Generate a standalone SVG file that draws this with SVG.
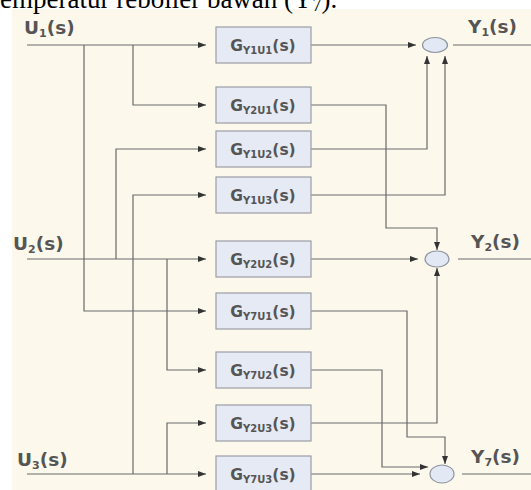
<svg xmlns="http://www.w3.org/2000/svg" width="531" height="490" viewBox="0 0 531 490">
  <style>
    .lbl { font-family: "DejaVu Sans", "Liberation Sans", sans-serif; font-weight: bold; font-size: 18.5px; fill: #555; }
    .lbl .s { font-size: 11px; }
    .blk rect { fill: #e6eaf5; stroke: #9b9ca6; stroke-width: 1.2; }
    .blk text { font-family: "DejaVu Sans", "Liberation Sans", sans-serif; font-weight: bold; font-size: 15.5px; fill: #555; text-anchor: middle; }
    .sub { font-size: 10px; }
    .sum ellipse { fill: #e3e8f5; stroke: #8e939e; stroke-width: 1.2; }
    #connectors path, #connectors line { fill: none; stroke: #6a6a6a; stroke-width: 1.2; }
    .arr { marker-end: url(#ah); }
  </style>
  <defs>
    <marker id="ah" viewBox="0 0 8 6" refX="8" refY="3" markerWidth="8" markerHeight="6" markerUnits="userSpaceOnUse" orient="auto">
      <path d="M0,0 L8,3 L0,6 Z" fill="#333"/>
    </marker>
  </defs>

  <!-- page background -->
  <rect x="0" y="0" width="531" height="490" fill="#ffffff"/>
  <rect x="12" y="9" width="519" height="481" fill="#fcf8ec"/>

  <!-- sentence running off the top edge -->
  <text x="0" y="8" font-family="'Liberation Serif', 'Times New Roman', serif" font-size="27" fill="#000">emperatur reboiler bawah (Y<tspan font-size="18" dy="3">7</tspan><tspan dy="-3">).</tspan></text>

  <!-- connectors -->
  <g id="connectors">
    <!-- U1 -->
    <line class="arr" x1="27" y1="45" x2="206" y2="45"/>
    <path class="arr" d="M133,45 V105 H206"/>
    <path class="arr" d="M84,45 V311 H206"/>
    <!-- U2 -->
    <line class="arr" x1="27" y1="259" x2="206" y2="259"/>
    <path class="arr" d="M116,259 V149 H206"/>
    <path class="arr" d="M167,259 V370 H206"/>
    <!-- U3 -->
    <line class="arr" x1="27" y1="474" x2="206" y2="474"/>
    <path class="arr" d="M133,474 V195 H206"/>
    <path class="arr" d="M167,474 V423 H206"/>

    <!-- into Y1 junction -->
    <line class="arr" x1="311" y1="45" x2="416" y2="45"/>
    <path class="arr" d="M311,149 H427 V56"/>
    <path class="arr" d="M311,195 H445 V56"/>
    <!-- into Y2 junction -->
    <path class="arr" d="M311,105 H386 V228 H437 V250"/>
    <line class="arr" x1="311" y1="259" x2="418" y2="259"/>
    <path class="arr" d="M311,423 H437 V268"/>
    <!-- into Y7 junction -->
    <path class="arr" d="M311,311 H407 V437 H445 V464"/>
    <path class="arr" d="M311,370 H382 V467 H428"/>
    <line class="arr" x1="311" y1="474" x2="420" y2="474"/>

    <!-- outputs -->
    <line x1="453" y1="45" x2="531" y2="45"/>
    <line x1="458" y1="259" x2="531" y2="259"/>
    <line x1="462" y1="474" x2="531" y2="474"/>
  </g>

  <!-- input / output labels -->
  <text class="lbl" x="24" y="34">U<tspan class="s" dy="3">1</tspan><tspan dy="-3">(s)</tspan></text>
  <text class="lbl" x="13" y="250">U<tspan class="s" dy="3">2</tspan><tspan dy="-3">(s)</tspan></text>
  <text class="lbl" x="17" y="466">U<tspan class="s" dy="3">3</tspan><tspan dy="-3">(s)</tspan></text>
  <text class="lbl" x="468" y="33">Y<tspan class="s" dy="3">1</tspan><tspan dy="-3">(s)</tspan></text>
  <text class="lbl" x="471" y="248">Y<tspan class="s" dy="3">2</tspan><tspan dy="-3">(s)</tspan></text>
  <text class="lbl" x="471" y="463">Y<tspan class="s" dy="3">7</tspan><tspan dy="-3">(s)</tspan></text>

  <!-- transfer-function blocks -->
  <g id="g_y1u1" class="blk"><rect x="216" y="27" width="95" height="36"/><text x="263" y="51">G<tspan class="sub" dy="3">Y1U1</tspan><tspan dy="-3">(s)</tspan></text></g>
  <g id="g_y2u1" class="blk"><rect x="216" y="87" width="95" height="36"/><text x="263" y="111">G<tspan class="sub" dy="3">Y2U1</tspan><tspan dy="-3">(s)</tspan></text></g>
  <g id="g_y1u2" class="blk"><rect x="216" y="131" width="95" height="36"/><text x="263" y="155">G<tspan class="sub" dy="3">Y1U2</tspan><tspan dy="-3">(s)</tspan></text></g>
  <g id="g_y1u3" class="blk"><rect x="216" y="177" width="95" height="36"/><text x="263" y="201">G<tspan class="sub" dy="3">Y1U3</tspan><tspan dy="-3">(s)</tspan></text></g>
  <g id="g_y2u2" class="blk"><rect x="216" y="241" width="95" height="36"/><text x="263" y="265">G<tspan class="sub" dy="3">Y2U2</tspan><tspan dy="-3">(s)</tspan></text></g>
  <g id="g_y7u1" class="blk"><rect x="216" y="293" width="95" height="36"/><text x="263" y="317">G<tspan class="sub" dy="3">Y7U1</tspan><tspan dy="-3">(s)</tspan></text></g>
  <g id="g_y7u2" class="blk"><rect x="216" y="352" width="95" height="36"/><text x="263" y="376">G<tspan class="sub" dy="3">Y7U2</tspan><tspan dy="-3">(s)</tspan></text></g>
  <g id="g_y2u3" class="blk"><rect x="216" y="405" width="95" height="36"/><text x="263" y="429">G<tspan class="sub" dy="3">Y2U3</tspan><tspan dy="-3">(s)</tspan></text></g>
  <g id="g_y7u3" class="blk"><rect x="216" y="456" width="95" height="36"/><text x="263" y="480">G<tspan class="sub" dy="3">Y7U3</tspan><tspan dy="-3">(s)</tspan></text></g>

  <!-- summing junctions -->
  <g id="sum_y1" class="sum"><ellipse cx="435" cy="45" rx="12.5" ry="7.5"/></g>
  <g id="sum_y2" class="sum"><ellipse cx="437" cy="259" rx="12" ry="8"/></g>
  <g id="sum_y7" class="sum"><ellipse cx="442" cy="474" rx="12" ry="9"/></g>
</svg>
